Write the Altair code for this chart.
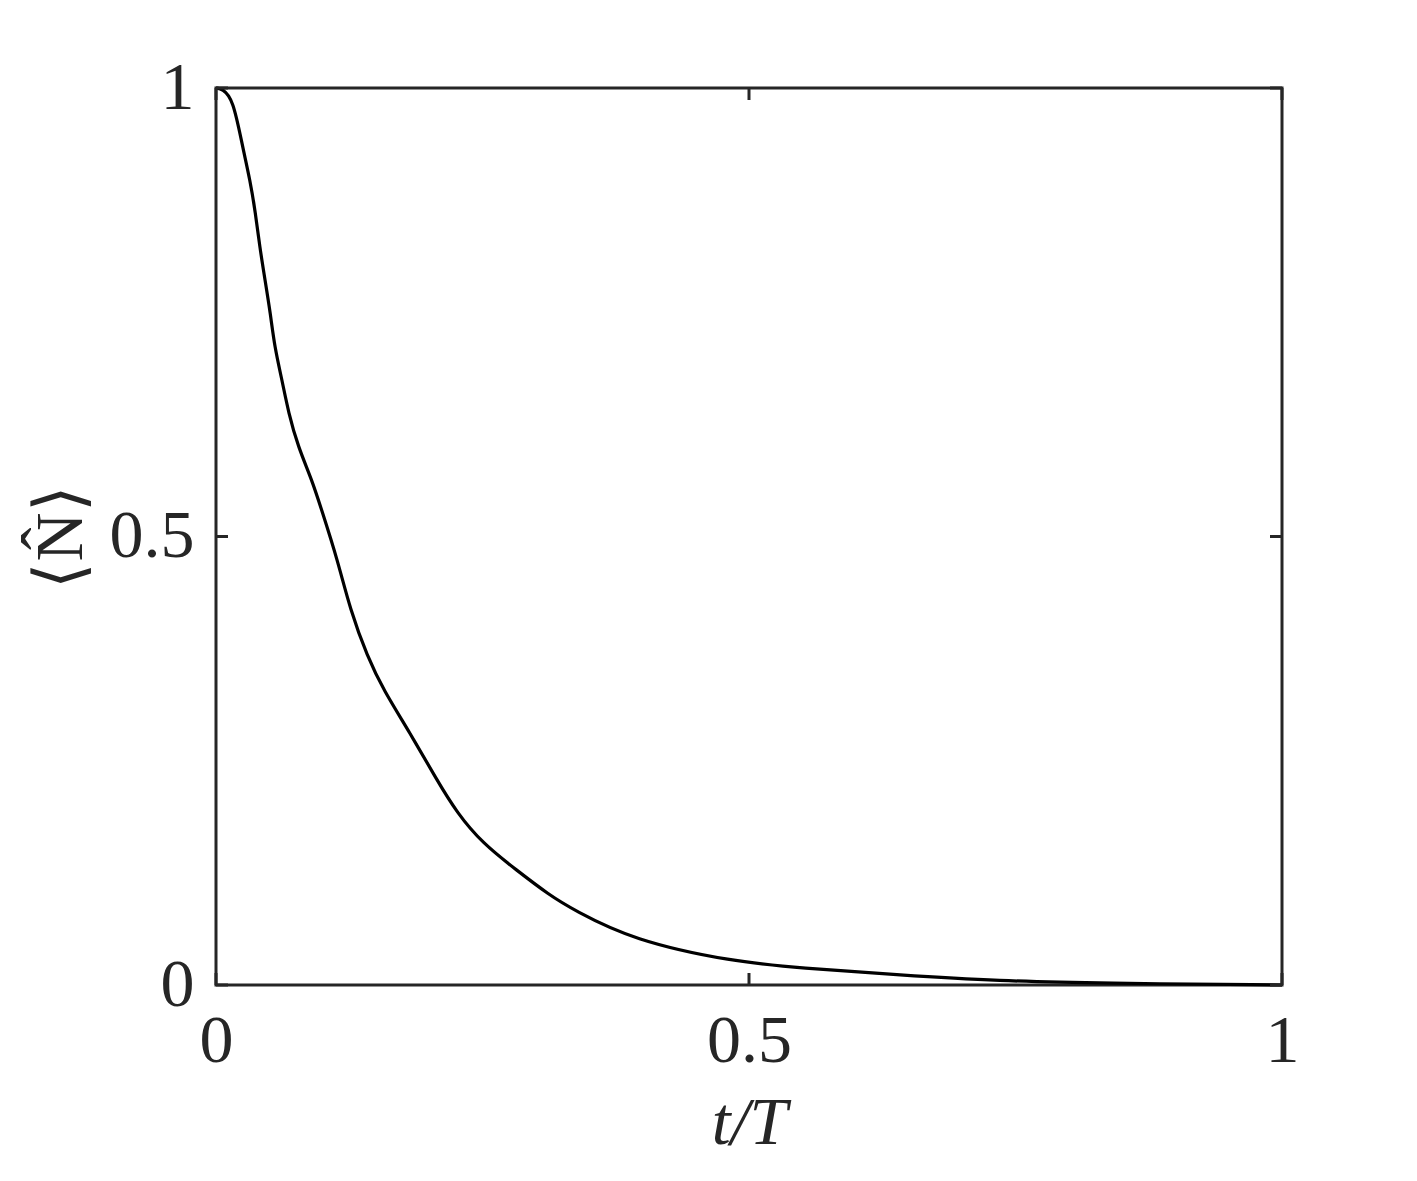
import altair as alt
import pandas as pd

t_vals = [0.0, 0.006, 0.016, 0.025, 0.032, 0.037, 0.041, 0.046, 0.051, 0.055, 0.062,
          0.068, 0.077, 0.090, 0.099, 0.114, 0.126, 0.142, 0.157, 0.182, 0.207,
          0.226, 0.250, 0.282, 0.313, 0.335, 0.391, 0.485, 0.548, 0.642, 0.735,
          0.829, 1.0]
n_vals = [1.0, 0.999, 0.988, 0.934, 0.897, 0.861, 0.823, 0.786, 0.749, 0.711, 0.674,
          0.638, 0.600, 0.563, 0.530, 0.474, 0.418, 0.366, 0.329, 0.281, 0.229,
          0.192, 0.158, 0.128, 0.100, 0.084, 0.050, 0.026, 0.019, 0.011, 0.0045,
          0.002, 0.0]
tick_vals = [0.0, 0.5, 1.0]

W, H = 1066, 897
TICK = 12
COL = "#262626"
FONT = "Liberation Serif"

df = pd.DataFrame({"t": t_vals, "N": n_vals})
ticks = pd.DataFrame({"v": tick_vals})

xscale = alt.Scale(domain=[0, 1], nice=False)
yscale = alt.Scale(domain=[0, 1], nice=False)

line = alt.Chart(df).mark_line(color="black", strokeWidth=3.2, interpolate="basis").encode(
    x=alt.X("t:Q", scale=xscale,
            axis=alt.Axis(values=tick_vals, title="t/T", format="~g", ticks=False, tickSize=0,
                          domain=False, grid=False, labelPadding=22, titlePadding=14,
                          labelFlush=False, titleFontStyle="italic", titleFontWeight="normal")),
    y=alt.Y("N:Q", scale=yscale,
            axis=alt.Axis(values=tick_vals, title="⟨N̂⟩", format="~g", ticks=False, tickSize=0,
                          domain=False, grid=False, labelPadding=22, titlePadding=14,
                          labelFlush=False, titleFontWeight="normal")),
)

bottom_ticks = alt.Chart(ticks).mark_rule(color=COL, strokeWidth=3).encode(
    x=alt.X("v:Q", scale=xscale), y=alt.value(H), y2=alt.value(H - TICK))
top_ticks = alt.Chart(ticks).mark_rule(color=COL, strokeWidth=3).encode(
    x=alt.X("v:Q", scale=xscale), y=alt.value(0), y2=alt.value(TICK))
left_ticks = alt.Chart(ticks).mark_rule(color=COL, strokeWidth=3).encode(
    y=alt.Y("v:Q", scale=yscale), x=alt.value(0), x2=alt.value(TICK))
right_ticks = alt.Chart(ticks).mark_rule(color=COL, strokeWidth=3).encode(
    y=alt.Y("v:Q", scale=yscale), x=alt.value(W), x2=alt.value(W - TICK))

chart = alt.layer(line, bottom_ticks, top_ticks, left_ticks, right_ticks).properties(
    width=W, height=H,
    background="white",
    autosize=alt.AutoSizeParams(type="none"),
    padding={"left": 208, "top": 80, "right": 60, "bottom": 180},
).configure_view(
    stroke=COL, strokeWidth=3
).configure_axis(
    labelFont=FONT, titleFont=FONT, labelFontSize=68, titleFontSize=68,
    labelColor=COL, titleColor=COL,
)

chart.save("out.html", embed_options={"renderer": "svg", "actions": False})
